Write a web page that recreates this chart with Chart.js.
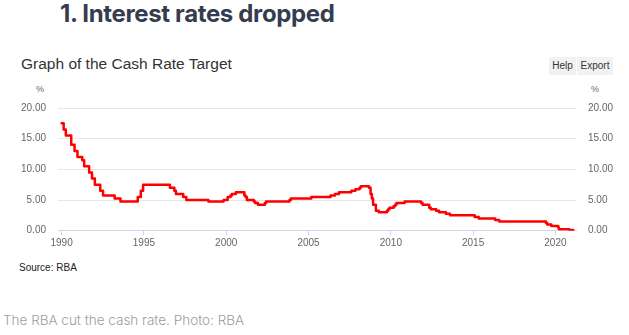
<!DOCTYPE html>
<html>
<head>
<meta charset="utf-8">
<script src="https://cdn.jsdelivr.net/npm/chart.js@4/dist/chart.umd.min.js"></script>
<style>
    html, body { margin: 0; padding: 0; background: #fff; }
    body { width: 629px; height: 335px; position: relative; overflow: hidden; font-family: "Liberation Sans", Arial, sans-serif; }
    .headline { position: absolute; left: 60px; top: -1px; margin: 0; font-family: Inter, sans-serif; font-weight: 700; font-size: 24px; letter-spacing: -0.35px; color: #363c50; }
    .chart-title { position: absolute; left: 21px; top: 55px; font-size: 15.5px; color: #333; }
    .btn { position: absolute; top: 57px; height: 18px; line-height: 18px; font-size: 10px; color: #333; background: #f2f2f2; text-align: center; }
    .unit { position: absolute; top: 84px; font-size: 9px; color: #666; }
    .source { position: absolute; left: 19px; top: 262px; font-size: 10px; color: #222; }
    .caption { position: absolute; left: 3px; top: 312px; font-family: Inter, sans-serif; font-weight: 300; font-size: 13.5px; color: #9a9ba6; }
    #wrap { position: absolute; left: 0; top: 80px; width: 629px; height: 175px; }
</style>
</head>
<body>
<h1 class="headline">1. Interest rates dropped</h1>
<div class="chart-title">Graph of the Cash Rate Target</div>
<div class="btn" style="left:549px;width:27px">Help</div>
<div class="btn" style="left:577px;width:36px">Export</div>
<div class="unit" style="left:36px">%</div>
<div class="unit" style="left:591px">%</div>
<div id="wrap"><canvas id="cashRate"></canvas></div>
<div class="source">Source: RBA</div>
<div class="caption">The RBA cut the cash rate. Photo: RBA</div>

<script>
// Cash rate target (upper bound where a range was announced), by decision date
const rateDates = [
    '1990-01-01', '1990-02-15', '1990-04-04', '1990-08-02', '1990-10-15', '1990-12-18',
    '1991-04-04', '1991-05-16', '1991-09-03', '1991-11-06', '1992-01-08', '1992-05-06',
    '1992-07-08', '1993-03-23', '1993-07-30', '1994-08-17', '1994-10-24', '1994-12-14',
    '1996-07-31', '1996-11-06', '1996-12-11', '1997-05-23', '1997-07-30', '1998-12-02',
    '1999-11-03', '2000-02-02', '2000-04-05', '2000-05-03', '2000-08-02', '2001-02-07',
    '2001-03-07', '2001-04-04', '2001-09-05', '2001-10-03', '2001-12-05', '2002-05-08',
    '2002-06-05', '2003-11-05', '2003-12-03', '2005-03-02', '2006-05-03', '2006-08-09',
    '2006-11-08', '2007-08-08', '2007-11-07', '2008-02-06', '2008-03-05', '2008-09-03',
    '2008-10-08', '2008-11-05', '2008-12-03', '2009-02-04', '2009-04-08', '2009-10-07',
    '2009-11-04', '2009-12-02', '2010-03-03', '2010-04-07', '2010-05-05', '2010-11-03',
    '2011-11-02', '2011-12-07', '2012-05-02', '2012-06-06', '2012-10-03', '2012-12-05',
    '2013-05-08', '2013-08-07', '2015-02-04', '2015-05-06', '2016-05-04', '2016-08-03',
    '2019-06-05', '2019-07-03', '2019-10-02', '2020-03-04', '2020-03-20', '2020-11-04',
    '2021-01-31',
];
const rateValues = [
    17.5, 16.5, 15.5, 14.0, 13.0, 12.0,
    11.5, 10.5, 9.5, 8.5, 7.5, 6.5,
    5.75, 5.25, 4.75, 5.5, 6.5, 7.5,
    7.0, 6.5, 6.0, 5.5, 5.0, 4.75,
    5.0, 5.5, 5.75, 6.0, 6.25, 5.75,
    5.5, 5.0, 4.75, 4.5, 4.25, 4.5,
    4.75, 5.0, 5.25, 5.5, 5.75, 6.0,
    6.25, 6.5, 6.75, 7.0, 7.25, 7.0,
    6.0, 5.25, 4.25, 3.25, 3.0, 3.25,
    3.5, 3.75, 4.0, 4.25, 4.5, 4.75,
    4.5, 4.25, 3.75, 3.5, 3.25, 3.0,
    2.75, 2.5, 2.25, 2.0, 1.75, 1.5,
    1.25, 1.0, 0.75, 0.5, 0.25, 0.1,
    0.1,
];
const yearTicks = [1990, 1995, 2000, 2005, 2010, 2015, 2020];
const rateTicks = [0, 5, 10, 15, 20];

const COLORS = {
    line: '#ff0000',
    grid: '#e6e6e6',
    axis: '#ccd6eb',
    label: '#666666',
};

function toYear(s) {
    const d = new Date(s + 'T00:00:00Z');
    const start = Date.UTC(d.getUTCFullYear(), 0, 1);
    return d.getUTCFullYear() + (d - start) / (365.25 * 864e5);
}

const points = rateDates.map((d, i) => ({ x: toYear(d), y: rateValues[i] }));
const tickFont = { family: '"Liberation Sans", Arial, sans-serif', size: 10 };

function rateAxis(position, showGrid) {
    return {
        position,
        min: 0,
        max: 20,
        afterBuildTicks: (s) => { s.ticks = rateTicks.map((v) => ({ value: v })); },
        afterFit: (s) => { s.width = position === 'left' ? 58 : 53; },
        grid: { display: showGrid, color: COLORS.grid, drawTicks: false },
        border: { display: false },
        ticks: { padding: 12, color: COLORS.label, font: tickFont, callback: (v) => Number(v).toFixed(2) },
    };
}

new Chart(document.getElementById('cashRate'), {
    type: 'line',
    data: {
        datasets: [{
            data: points,
            borderColor: COLORS.line,
            borderWidth: 2.5,
            pointRadius: 0,
            stepped: true,
            borderJoinStyle: 'round',
            borderCapStyle: 'round',
            yAxisID: 'y',
        }],
    },
    options: {
        responsive: true,
        maintainAspectRatio: false,
        animation: false,
        layout: { padding: { top: 28, bottom: 0, left: 0, right: 0 } },
        plugins: { legend: { display: false }, tooltip: { enabled: false } },
        scales: {
            x: {
                type: 'linear',
                min: 1989.78,
                max: 2021.25,
                afterBuildTicks: (s) => { s.ticks = yearTicks.map((v) => ({ value: v })); },
                afterFit: (s) => { s.height = 24.3; },
                grid: { drawOnChartArea: false, color: COLORS.axis, tickLength: 5 },
                border: { color: COLORS.axis },
                ticks: { padding: 2, maxRotation: 0, color: COLORS.label, font: tickFont, callback: (v) => String(v) },
            },
            y: rateAxis('left', true),
            y2: rateAxis('right', false),
        },
    },
});
</script>
</body>
</html>
